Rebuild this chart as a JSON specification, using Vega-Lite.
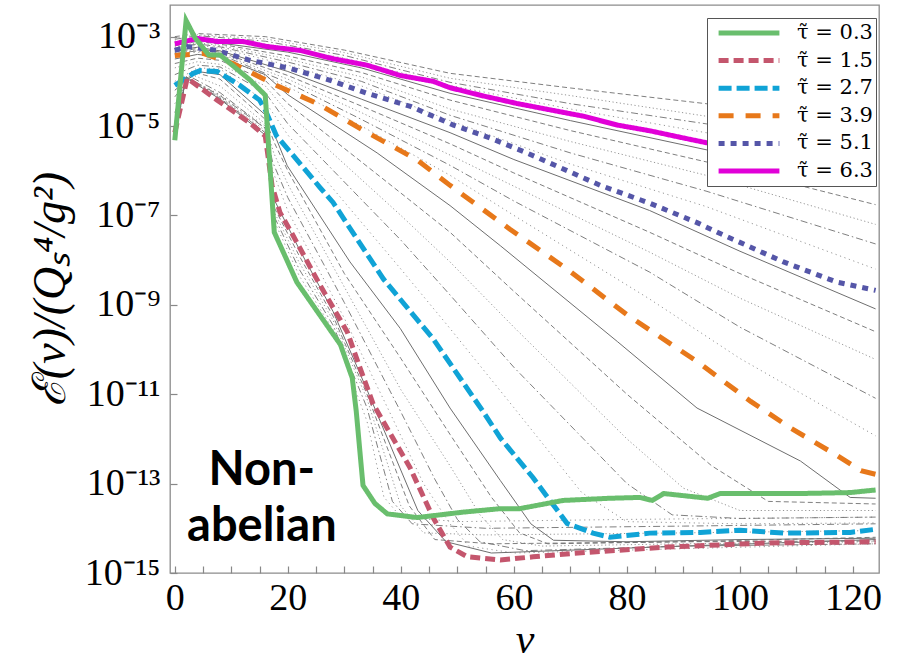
{
"$schema": "https://vega.github.io/schema/vega-lite/v6.json",
"width": 709,
"height": 568,
"autosize": {"type": "none"},
"padding": {"left": 170, "top": 5, "right": 20, "bottom": 94},
"background": "white",
"config": {"view": {"stroke": "#8c8c8c", "strokeWidth": 1.3}, "font": "Liberation Serif"},
"datasets": {"notes": [{"note": "Non-abelian", "nu": 15.4, "E": 1.95e-13}]},
"data": {"values": [
{"tau":7.1,"nu":0,"E":1e-3},{"tau":7.1,"nu":4,"E":1.17e-3},{"tau":7.1,"nu":16,"E":1e-3},{"tau":7.1,"nu":30,"E":5e-4},{"tau":7.1,"nu":48.7,"E":1.51e-4},{"tau":7.1,"nu":70,"E":7.1e-5},{"tau":7.1,"nu":94,"E":3.16e-5},{"tau":7.1,"nu":124,"E":1e-5},
{"tau":6.9,"nu":0,"E":9.3e-4},{"tau":6.9,"nu":4,"E":1.1e-3},{"tau":6.9,"nu":16,"E":8.9e-4},{"tau":6.9,"nu":30,"E":4.4e-4},{"tau":6.9,"nu":48.7,"E":1.17e-4},{"tau":6.9,"nu":70,"E":4.8e-5},{"tau":6.9,"nu":94,"E":1.66e-5},{"tau":6.9,"nu":124,"E":5.6e-6},
{"tau":6.7,"nu":0,"E":8.7e-4},{"tau":6.7,"nu":4,"E":1.05e-3},{"tau":6.7,"nu":16,"E":7.9e-4},{"tau":6.7,"nu":30,"E":3.8e-4},{"tau":6.7,"nu":48.7,"E":9.5e-5},{"tau":6.7,"nu":70,"E":3.16e-5},{"tau":6.7,"nu":94,"E":1.12e-5},{"tau":6.7,"nu":124,"E":3.16e-6},
{"tau":6.5,"nu":0,"E":7.9e-4},{"tau":6.5,"nu":4,"E":9.8e-4},{"tau":6.5,"nu":16,"E":6.9e-4},{"tau":6.5,"nu":30,"E":3.3e-4},{"tau":6.5,"nu":48.7,"E":8.1e-5},{"tau":6.5,"nu":70,"E":2.4e-5},{"tau":6.5,"nu":94,"E":7.1e-6},{"tau":6.5,"nu":124,"E":1.78e-6},
{"tau":6.1,"nu":0,"E":6.6e-4},{"tau":6.1,"nu":4,"E":8.5e-4},{"tau":6.1,"nu":8,"E":7.2e-4},{"tau":6.1,"nu":20,"E":4.5e-4},{"tau":6.1,"nu":33,"E":2e-4},{"tau":6.1,"nu":48.7,"E":5.4e-5},{"tau":6.1,"nu":70,"E":1.32e-5},{"tau":6.1,"nu":94,"E":2.95e-6},{"tau":6.1,"nu":124,"E":4.7e-7},
{"tau":5.9,"nu":0,"E":6.2e-4},{"tau":5.9,"nu":4,"E":7.9e-4},{"tau":5.9,"nu":8,"E":6.8e-4},{"tau":5.9,"nu":20,"E":3.7e-4},{"tau":5.9,"nu":33,"E":1.58e-4},{"tau":5.9,"nu":48.7,"E":3.8e-5},{"tau":5.9,"nu":70,"E":7.9e-6},{"tau":5.9,"nu":94,"E":1.58e-6},{"tau":5.9,"nu":124,"E":1.74e-7},
{"tau":5.7,"nu":0,"E":5.8e-4},{"tau":5.7,"nu":4,"E":7.4e-4},{"tau":5.7,"nu":8,"E":6.3e-4},{"tau":5.7,"nu":20,"E":3.16e-4},{"tau":5.7,"nu":33,"E":1.26e-4},{"tau":5.7,"nu":48.7,"E":2.4e-5},{"tau":5.7,"nu":70,"E":4.5e-6},{"tau":5.7,"nu":94,"E":7.9e-7},{"tau":5.7,"nu":124,"E":6.3e-8},
{"tau":5.5,"nu":0,"E":5.5e-4},{"tau":5.5,"nu":4,"E":6.9e-4},{"tau":5.5,"nu":8,"E":5.9e-4},{"tau":5.5,"nu":20,"E":2.7e-4},{"tau":5.5,"nu":33,"E":1e-4},{"tau":5.5,"nu":48.7,"E":1.74e-5},{"tau":5.5,"nu":70,"E":2.5e-6},{"tau":5.5,"nu":94,"E":3.5e-7},{"tau":5.5,"nu":124,"E":2.3e-8},
{"tau":5.3,"nu":0,"E":5.1e-4},{"tau":5.3,"nu":4,"E":6.5e-4},{"tau":5.3,"nu":8,"E":5.5e-4},{"tau":5.3,"nu":20,"E":2.3e-4},{"tau":5.3,"nu":33,"E":7.9e-5},{"tau":5.3,"nu":48.7,"E":1.32e-5},{"tau":5.3,"nu":70,"E":1.41e-6},{"tau":5.3,"nu":94,"E":1.58e-7},{"tau":5.3,"nu":124,"E":6.3e-9},
{"tau":4.9,"nu":0,"E":4.8e-4},{"tau":4.9,"nu":4,"E":5.8e-4},{"tau":4.9,"nu":8,"E":4.8e-4},{"tau":4.9,"nu":20,"E":1.66e-4},{"tau":4.9,"nu":33,"E":4e-5},{"tau":4.9,"nu":48.7,"E":7.1e-6},{"tau":4.9,"nu":60,"E":1.78e-6},{"tau":4.9,"nu":84,"E":1.29e-7},{"tau":4.9,"nu":100,"E":1.58e-8},{"tau":4.9,"nu":124,"E":8.1e-10},
{"tau":4.7,"nu":0,"E":4.6e-4},{"tau":4.7,"nu":4,"E":5.4e-4},{"tau":4.7,"nu":8,"E":4.5e-4},{"tau":4.7,"nu":20,"E":1.35e-4},{"tau":4.7,"nu":33,"E":2.8e-5},{"tau":4.7,"nu":48.7,"E":4e-6},{"tau":4.7,"nu":60,"E":8.9e-7},{"tau":4.7,"nu":84,"E":4.2e-8},{"tau":4.7,"nu":100,"E":5e-9},{"tau":4.7,"nu":124,"E":2.5e-10},
{"tau":4.5,"nu":0,"E":4.4e-4},{"tau":4.5,"nu":4,"E":5e-4},{"tau":4.5,"nu":8,"E":4.2e-4},{"tau":4.5,"nu":20,"E":1.12e-4},{"tau":4.5,"nu":33,"E":2e-5},{"tau":4.5,"nu":48.7,"E":2.24e-6},{"tau":4.5,"nu":60,"E":4.5e-7},{"tau":4.5,"nu":84,"E":1.51e-8},{"tau":4.5,"nu":100,"E":1.41e-9},{"tau":4.5,"nu":124,"E":6e-11},
{"tau":4.3,"nu":0,"E":4.2e-4},{"tau":4.3,"nu":4,"E":4.8e-4},{"tau":4.3,"nu":8,"E":4e-4},{"tau":4.3,"nu":20,"E":9.3e-5},{"tau":4.3,"nu":33,"E":1.41e-5},{"tau":4.3,"nu":48.7,"E":1.32e-6},{"tau":4.3,"nu":60,"E":2.1e-7},{"tau":4.3,"nu":84,"E":5.4e-9},{"tau":4.3,"nu":100,"E":3.16e-10},{"tau":4.3,"nu":124,"E":8.1e-12},
{"tau":4.1,"nu":0,"E":4e-4},{"tau":4.1,"nu":4,"E":4.5e-4},{"tau":4.1,"nu":8,"E":3.8e-4},{"tau":4.1,"nu":20,"E":7.6e-5},{"tau":4.1,"nu":33,"E":1e-5},{"tau":4.1,"nu":48.7,"E":7.9e-7},{"tau":4.1,"nu":60,"E":1e-7},{"tau":4.1,"nu":84,"E":1.35e-9},{"tau":4.1,"nu":100,"E":6.3e-11},{"tau":4.1,"nu":124,"E":1.17e-12},
{"tau":3.7,"nu":0,"E":3.16e-4},{"tau":3.7,"nu":4,"E":4e-4},{"tau":3.7,"nu":8,"E":3.5e-4},{"tau":3.7,"nu":16,"E":1.41e-4},{"tau":3.7,"nu":20,"E":5e-5},{"tau":3.7,"nu":35.8,"E":2.5e-6},{"tau":3.7,"nu":48.7,"E":1.66e-7},{"tau":3.7,"nu":57.6,"E":2.1e-8},{"tau":3.7,"nu":78.3,"E":1.51e-10},{"tau":3.7,"nu":92.4,"E":4.9e-12},{"tau":3.7,"nu":110.7,"E":3.2e-13},{"tau":3.7,"nu":119.5,"E":4.9e-14},{"tau":3.7,"nu":124,"E":4.7e-14},
{"tau":3.5,"nu":0,"E":2.5e-4},{"tau":3.5,"nu":4,"E":3.3e-4},{"tau":3.5,"nu":8,"E":2.95e-4},{"tau":3.5,"nu":16,"E":1.05e-4},{"tau":3.5,"nu":20,"E":3.16e-5},{"tau":3.5,"nu":40,"E":3.16e-7},{"tau":3.5,"nu":48.7,"E":4.2e-8},{"tau":3.5,"nu":60,"E":2e-9},{"tau":3.5,"nu":80,"E":1e-11},{"tau":3.5,"nu":95,"E":2.5e-13},{"tau":3.5,"nu":105,"E":4e-14},{"tau":3.5,"nu":124,"E":3.5e-14},
{"tau":3.3,"nu":0,"E":2e-4},{"tau":3.3,"nu":4,"E":2.75e-4},{"tau":3.3,"nu":8,"E":2.4e-4},{"tau":3.3,"nu":16,"E":7.9e-5},{"tau":3.3,"nu":20,"E":2e-5},{"tau":3.3,"nu":40,"E":1e-7},{"tau":3.3,"nu":48.7,"E":9.1e-9},{"tau":3.3,"nu":60,"E":3.16e-10},{"tau":3.3,"nu":80,"E":1e-12},{"tau":3.3,"nu":90,"E":7.9e-14},{"tau":3.3,"nu":100,"E":2.5e-14},{"tau":3.3,"nu":124,"E":2.5e-14},
{"tau":3.1,"nu":0,"E":1.41e-4},{"tau":3.1,"nu":4,"E":2.3e-4},{"tau":3.1,"nu":8,"E":2.1e-4},{"tau":3.1,"nu":16,"E":5.6e-5},{"tau":3.1,"nu":20,"E":1.12e-5},{"tau":3.1,"nu":40,"E":2.8e-8},{"tau":3.1,"nu":48.7,"E":1.66e-9},{"tau":3.1,"nu":60,"E":4e-11},{"tau":3.1,"nu":80,"E":1e-13},{"tau":3.1,"nu":88,"E":2e-14},{"tau":3.1,"nu":100,"E":1.66e-14},{"tau":3.1,"nu":124,"E":1.78e-14},
{"tau":2.9,"nu":0,"E":1e-4},{"tau":2.9,"nu":4,"E":2e-4},{"tau":2.9,"nu":8,"E":1.9e-4},{"tau":2.9,"nu":16,"E":3.5e-5},{"tau":2.9,"nu":20,"E":6.3e-6},{"tau":2.9,"nu":40,"E":6.3e-9},{"tau":2.9,"nu":48.7,"E":2.95e-10},{"tau":2.9,"nu":60,"E":5e-12},{"tau":2.9,"nu":72,"E":6.3e-14},{"tau":2.9,"nu":80,"E":1.41e-14},{"tau":2.9,"nu":100,"E":1.26e-14},{"tau":2.9,"nu":124,"E":1.32e-14},
{"tau":2.5,"nu":0,"E":6.3e-5},{"tau":2.5,"nu":4,"E":1.66e-4},{"tau":2.5,"nu":8,"E":1.41e-4},{"tau":2.5,"nu":16,"E":1.78e-5},{"tau":2.5,"nu":18,"E":5e-6},{"tau":2.5,"nu":19.9,"E":1.29e-6},{"tau":2.5,"nu":31,"E":9.1e-9},{"tau":2.5,"nu":39.9,"E":2.95e-10},{"tau":2.5,"nu":48.7,"E":4.9e-12},{"tau":2.5,"nu":57.6,"E":1.17e-13},{"tau":2.5,"nu":63,"E":1.26e-14},{"tau":2.5,"nu":67,"E":5.4e-15},{"tau":2.5,"nu":80,"E":5e-15},{"tau":2.5,"nu":100,"E":5.6e-15},{"tau":2.5,"nu":124,"E":6e-15},
{"tau":2.3,"nu":0,"E":4.5e-5},{"tau":2.3,"nu":3.5,"E":1.58e-4},{"tau":2.3,"nu":8,"E":1.12e-4},{"tau":2.3,"nu":16,"E":1.41e-5},{"tau":2.3,"nu":17.7,"E":4e-6},{"tau":2.3,"nu":20,"E":1e-6},{"tau":2.3,"nu":30,"E":5e-9},{"tau":2.3,"nu":40,"E":6.3e-11},{"tau":2.3,"nu":48.7,"E":1.26e-12},{"tau":2.3,"nu":56,"E":5e-14},{"tau":2.3,"nu":61,"E":7.9e-15},{"tau":2.3,"nu":66,"E":4.5e-15},{"tau":2.3,"nu":90,"E":5e-15},{"tau":2.3,"nu":124,"E":5.2e-15},
{"tau":2.1,"nu":0,"E":3.16e-5},{"tau":2.1,"nu":3,"E":1.41e-4},{"tau":2.1,"nu":8,"E":7.9e-5},{"tau":2.1,"nu":16,"E":1.12e-5},{"tau":2.1,"nu":17.5,"E":2.5e-6},{"tau":2.1,"nu":20,"E":5e-7},{"tau":2.1,"nu":30,"E":2.5e-9},{"tau":2.1,"nu":40,"E":1.26e-11},{"tau":2.1,"nu":48.7,"E":2.5e-13},{"tau":2.1,"nu":54,"E":2e-14},{"tau":2.1,"nu":58,"E":5.6e-15},{"tau":2.1,"nu":65,"E":4e-15},{"tau":2.1,"nu":90,"E":4.5e-15},{"tau":2.1,"nu":124,"E":5e-15},
{"tau":1.9,"nu":0,"E":2e-5},{"tau":1.9,"nu":2.5,"E":1.32e-4},{"tau":1.9,"nu":8,"E":5.6e-5},{"tau":1.9,"nu":16,"E":8.9e-6},{"tau":1.9,"nu":17.3,"E":1.58e-6},{"tau":1.9,"nu":20,"E":2.5e-7},{"tau":1.9,"nu":30,"E":1.12e-9},{"tau":1.9,"nu":40,"E":4e-12},{"tau":1.9,"nu":46,"E":1.26e-13},{"tau":1.9,"nu":50,"E":1.58e-14},{"tau":1.9,"nu":54,"E":5e-15},{"tau":1.9,"nu":62,"E":3.16e-15},{"tau":1.9,"nu":90,"E":4e-15},{"tau":1.9,"nu":124,"E":4.5e-15},
{"tau":1.7,"nu":0,"E":1.26e-5},{"tau":1.7,"nu":2,"E":1.26e-4},{"tau":1.7,"nu":8,"E":4.5e-5},{"tau":1.7,"nu":16,"E":7.1e-6},{"tau":1.7,"nu":17.3,"E":1e-6},{"tau":1.7,"nu":20,"E":1.26e-7},{"tau":1.7,"nu":30,"E":5e-10},{"tau":1.7,"nu":38,"E":4e-12},{"tau":1.7,"nu":44,"E":1e-13},{"tau":1.7,"nu":48.7,"E":1.26e-14},{"tau":1.7,"nu":52,"E":4e-15},{"tau":1.7,"nu":60,"E":2.8e-15},{"tau":1.7,"nu":90,"E":3.5e-15},{"tau":1.7,"nu":124,"E":4.5e-15},
{"tau":1.3,"nu":0,"E":6.8e-6},{"tau":1.3,"nu":2,"E":1.2e-4},{"tau":1.3,"nu":8,"E":4e-5},{"tau":1.3,"nu":16,"E":6.3e-6},{"tau":1.3,"nu":17.4,"E":2.5e-7},{"tau":1.3,"nu":22,"E":1.78e-8},{"tau":1.3,"nu":28,"E":7.1e-10},{"tau":1.3,"nu":34,"E":1.26e-11},{"tau":1.3,"nu":43,"E":2.5e-14},{"tau":1.3,"nu":48,"E":5e-15},{"tau":1.3,"nu":56,"E":2.8e-15},{"tau":1.3,"nu":90,"E":4e-15},{"tau":1.3,"nu":124,"E":5.6e-15},
{"tau":1.1,"nu":0,"E":6.3e-6},{"tau":1.1,"nu":2,"E":1.26e-4},{"tau":1.1,"nu":8,"E":4.2e-5},{"tau":1.1,"nu":16,"E":7.1e-6},{"tau":1.1,"nu":17.5,"E":1.58e-7},{"tau":1.1,"nu":22,"E":1.26e-8},{"tau":1.1,"nu":28,"E":5.6e-10},{"tau":1.1,"nu":34,"E":1e-11},{"tau":1.1,"nu":41.5,"E":3.16e-14},{"tau":1.1,"nu":46,"E":5.6e-15},{"tau":1.1,"nu":56,"E":4.5e-15},{"tau":1.1,"nu":90,"E":5e-15},{"tau":1.1,"nu":124,"E":6.3e-15},
{"tau":0.9,"nu":0,"E":5.8e-6},{"tau":0.9,"nu":2,"E":1.26e-4},{"tau":0.9,"nu":8,"E":4.5e-5},{"tau":0.9,"nu":16,"E":7.9e-6},{"tau":0.9,"nu":17.5,"E":1.26e-7},{"tau":0.9,"nu":22,"E":8.9e-9},{"tau":0.9,"nu":28,"E":4.5e-10},{"tau":0.9,"nu":34,"E":7.9e-12},{"tau":0.9,"nu":40,"E":3.16e-14},{"tau":0.9,"nu":44,"E":7.9e-15},{"tau":0.9,"nu":55,"E":7.1e-15},{"tau":0.9,"nu":90,"E":7.9e-15},{"tau":0.9,"nu":124,"E":8.9e-15},
{"tau":0.7,"nu":0,"E":5.4e-6},{"tau":0.7,"nu":2,"E":1.26e-4},{"tau":0.7,"nu":8,"E":4.8e-5},{"tau":0.7,"nu":16,"E":8.9e-6},{"tau":0.7,"nu":17.5,"E":1e-7},{"tau":0.7,"nu":22,"E":6.3e-9},{"tau":0.7,"nu":28,"E":3.5e-10},{"tau":0.7,"nu":34,"E":5e-12},{"tau":0.7,"nu":38.5,"E":4e-14},{"tau":0.7,"nu":42,"E":1.26e-14},{"tau":0.7,"nu":55,"E":1e-14},{"tau":0.7,"nu":90,"E":1.12e-14},{"tau":0.7,"nu":124,"E":1.26e-14},
{"tau":0.5,"nu":0,"E":5e-6},{"tau":0.5,"nu":2,"E":1.26e-4},{"tau":0.5,"nu":8,"E":5e-5},{"tau":0.5,"nu":16,"E":1e-5},{"tau":0.5,"nu":17.5,"E":7.9e-8},{"tau":0.5,"nu":22,"E":4.5e-9},{"tau":0.5,"nu":28,"E":2.8e-10},{"tau":0.5,"nu":34,"E":2.5e-12},{"tau":0.5,"nu":37,"E":5e-14},{"tau":0.5,"nu":40,"E":1.78e-14},{"tau":0.5,"nu":50,"E":1.41e-14},{"tau":0.5,"nu":80,"E":1.58e-14},{"tau":0.5,"nu":124,"E":1.78e-14},
{"tau":6.3,"nu":0,"E":6.9e-4},{"tau":6.3,"nu":4,"E":9.1e-4},{"tau":6.3,"nu":7.5,"E":7.8e-4},{"tau":6.3,"nu":12,"E":7.8e-4},{"tau":6.3,"nu":16.3,"E":6e-4},{"tau":6.3,"nu":22.2,"E":4.9e-4},{"tau":6.3,"nu":28,"E":3.2e-4},{"tau":6.3,"nu":34,"E":2.3e-4},{"tau":6.3,"nu":39.9,"E":1.35e-4},{"tau":6.3,"nu":45.7,"E":1e-4},{"tau":6.3,"nu":48.7,"E":7.2e-5},{"tau":6.3,"nu":54.6,"E":4.7e-5},{"tau":6.3,"nu":60.5,"E":3.2e-5},{"tau":6.3,"nu":66.4,"E":2.3e-5},{"tau":6.3,"nu":72.3,"E":1.66e-5},{"tau":6.3,"nu":78.3,"E":1.05e-5},{"tau":6.3,"nu":84.1,"E":7.8e-6},{"tau":6.3,"nu":90,"E":5.4e-6},{"tau":6.3,"nu":94.2,"E":4.2e-6},{"tau":6.3,"nu":100,"E":3.2e-6},{"tau":6.3,"nu":110,"E":1.86e-6},{"tau":6.3,"nu":118,"E":1.12e-6},{"tau":6.3,"nu":124,"E":1e-6},
{"tau":5.1,"nu":0,"E":4.9e-4},{"tau":5.1,"nu":2.2,"E":6e-4},{"tau":5.1,"nu":7.5,"E":4.9e-4},{"tau":5.1,"nu":13.3,"E":2.95e-4},{"tau":5.1,"nu":20.4,"E":1.95e-4},{"tau":5.1,"nu":27.5,"E":1.05e-4},{"tau":5.1,"nu":34,"E":5.4e-5},{"tau":5.1,"nu":41.7,"E":2.75e-5},{"tau":5.1,"nu":49.3,"E":1.05e-5},{"tau":5.1,"nu":55.8,"E":5.4e-6},{"tau":5.1,"nu":62.3,"E":2.5e-6},{"tau":5.1,"nu":75.3,"E":4.7e-7},{"tau":5.1,"nu":84.1,"E":1.86e-7},{"tau":5.1,"nu":92.4,"E":6.9e-8},{"tau":5.1,"nu":96,"E":4.2e-8},{"tau":5.1,"nu":107.7,"E":9.1e-9},{"tau":5.1,"nu":117.2,"E":3.2e-9},{"tau":5.1,"nu":124,"E":2.1e-9},
{"tau":3.9,"nu":0,"E":3.8e-4},{"tau":3.9,"nu":5,"E":4.2e-4},{"tau":3.9,"nu":10.3,"E":2.5e-4},{"tau":3.9,"nu":18,"E":8.1e-5},{"tau":3.9,"nu":25.2,"E":3.2e-5},{"tau":3.9,"nu":33.3,"E":8.1e-6},{"tau":3.9,"nu":42.9,"E":1.74e-6},{"tau":3.9,"nu":48.7,"E":4.7e-7},{"tau":3.9,"nu":59.3,"E":4.9e-8},{"tau":3.9,"nu":69.4,"E":6.3e-9},{"tau":3.9,"nu":80,"E":6e-10},{"tau":3.9,"nu":92.4,"E":5.4e-11},{"tau":3.9,"nu":101.9,"E":6.9e-12},{"tau":3.9,"nu":109,"E":1.74e-12},{"tau":3.9,"nu":116.6,"E":4.7e-13},{"tau":3.9,"nu":121.4,"E":1.95e-13},{"tau":3.9,"nu":124,"E":1.62e-13},
{"tau":2.7,"nu":0,"E":8.1e-5},{"tau":2.7,"nu":3.3,"E":1.51e-4},{"tau":2.7,"nu":4.5,"E":1.74e-4},{"tau":2.7,"nu":7.5,"E":1.66e-4},{"tau":2.7,"nu":11.5,"E":8.1e-5},{"tau":2.7,"nu":15,"E":3.8e-5},{"tau":2.7,"nu":16,"E":2.3e-5},{"tau":2.7,"nu":18,"E":6e-6},{"tau":2.7,"nu":20.9,"E":2.24e-6},{"tau":2.7,"nu":25.7,"E":4.2e-7},{"tau":2.7,"nu":28,"E":1.95e-7},{"tau":2.7,"nu":36.9,"E":3.8e-9},{"tau":2.7,"nu":45.7,"E":1.74e-10},{"tau":2.7,"nu":54.6,"E":4e-12},{"tau":2.7,"nu":57.6,"E":1.05e-12},{"tau":2.7,"nu":63.4,"E":1.35e-13},{"tau":2.7,"nu":69.4,"E":1.29e-14},{"tau":2.7,"nu":74,"E":7.8e-15},{"tau":2.7,"nu":77,"E":6.3e-15},{"tau":2.7,"nu":84,"E":7.8e-15},{"tau":2.7,"nu":93,"E":8.1e-15},{"tau":2.7,"nu":100,"E":9.1e-15},{"tau":2.7,"nu":107.7,"E":7.8e-15},{"tau":2.7,"nu":119.5,"E":8.1e-15},{"tau":2.7,"nu":124,"E":9.5e-15},
{"tau":1.5,"nu":0,"E":7.1e-6},{"tau":1.5,"nu":2.2,"E":1.17e-4},{"tau":1.5,"nu":7.5,"E":3.8e-5},{"tau":1.5,"nu":13.3,"E":1.17e-5},{"tau":1.5,"nu":16,"E":6e-6},{"tau":1.5,"nu":17.2,"E":4.7e-7},{"tau":1.5,"nu":18.6,"E":1.17e-7},{"tau":1.5,"nu":20.9,"E":3.6e-8},{"tau":1.5,"nu":25.7,"E":2.75e-9},{"tau":1.5,"nu":30.5,"E":2.5e-10},{"tau":1.5,"nu":32.8,"E":3.8e-11},{"tau":1.5,"nu":35.1,"E":6e-12},{"tau":1.5,"nu":41.6,"E":2.3e-13},{"tau":1.5,"nu":45.7,"E":1.74e-14},{"tau":1.5,"nu":48.7,"E":3.8e-15},{"tau":1.5,"nu":51.8,"E":2.3e-15},{"tau":1.5,"nu":57.6,"E":1.95e-15},{"tau":1.5,"nu":63.4,"E":2.3e-15},{"tau":1.5,"nu":70.5,"E":2.75e-15},{"tau":1.5,"nu":87,"E":3.8e-15},{"tau":1.5,"nu":104.8,"E":4.7e-15},{"tau":1.5,"nu":124,"E":5e-15},
{"tau":0.3,"nu":0,"E":4.8e-6},{"tau":0.3,"nu":2,"E":2.3e-3},{"tau":0.3,"nu":3.6,"E":9.3e-4},{"tau":0.3,"nu":6,"E":3.9e-4},{"tau":0.3,"nu":8,"E":3.9e-4},{"tau":0.3,"nu":13.3,"E":1.07e-4},{"tau":0.3,"nu":16,"E":4.9e-5},{"tau":0.3,"nu":17.6,"E":4.2e-8},{"tau":0.3,"nu":21.6,"E":3.2e-9},{"tau":0.3,"nu":29.3,"E":1.29e-10},{"tau":0.3,"nu":31.4,"E":2.3e-11},{"tau":0.3,"nu":32.1,"E":4.2e-12},{"tau":0.3,"nu":33.3,"E":9.1e-14},{"tau":0.3,"nu":35.4,"E":3.6e-14},{"tau":0.3,"nu":37.6,"E":2.1e-14},{"tau":0.3,"nu":42.9,"E":1.74e-14},{"tau":0.3,"nu":51,"E":2.3e-14},{"tau":0.3,"nu":57.6,"E":2.75e-14},{"tau":0.3,"nu":61,"E":2.75e-14},{"tau":0.3,"nu":68.7,"E":4.2e-14},{"tau":0.3,"nu":77,"E":4.7e-14},{"tau":0.3,"nu":82.3,"E":4.9e-14},{"tau":0.3,"nu":84.5,"E":4.2e-14},{"tau":0.3,"nu":86.5,"E":6e-14},{"tau":0.3,"nu":94.3,"E":4.7e-14},{"tau":0.3,"nu":96.5,"E":6e-14},{"tau":0.3,"nu":110.7,"E":6e-14},{"tau":0.3,"nu":119.5,"E":6.3e-14},{"tau":0.3,"nu":124,"E":7.2e-14}
]},
"encoding": {
  "x": {"field": "nu", "type": "quantitative",
    "scale": {"domain": [-0.85, 124.6], "nice": false, "zero": false},
    "axis": {"values": [0,5,10,15,20,25,30,35,40,45,50,55,60,65,70,75,80,85,90,95,100,105,110,115,120],
      "labelExpr": "datum.value % 20 === 0 ? datum.label : ''",
      "title": "ν", "titleFont": "Liberation Serif", "titleFontStyle": "italic", "titleFontWeight": "normal", "titleFontSize": 42, "titleColor": "black",
      "titleY": 86, "titleBaseline": "alphabetic",
      "labelFont": "Liberation Serif", "labelFontSize": 38, "labelColor": "black", "labelPadding": 6,
      "labelFlush": false, "labelOverlap": false,
      "tickSize": 7, "offset": -7, "tickColor": "#888", "tickWidth": 1.2, "domain": false, "grid": false}},
  "y": {"field": "E", "type": "quantitative",
    "scale": {"type": "log", "domain": [1e-15, 5.1e-3], "nice": false},
    "axis": {"values": [1e-15,1e-13,1e-11,1e-9,1e-7,1e-5,1e-3],
      "labelExpr": "['10⁻³','10⁻⁵','10⁻⁷','10⁻⁹','10⁻¹¹','10⁻¹³','10⁻¹⁵'][round((-log(datum.value)/LN10-3)/2)]",
      "title": "ℰ(ν)/(Qₛ⁴/g²)", "titleFont": "Liberation Serif", "titleFontStyle": "italic", "titleFontWeight": "normal", "titleFontSize": 46, "titleColor": "black",
      "titleX": -127, "titleY": 284, "titleAngle": -90, "titleAlign": "center", "titleBaseline": "middle",
      "labelFont": "Liberation Serif", "labelFontSize": 38, "labelColor": "black", "labelPadding": 10, "labelBaseline": "middle",
      "labelFlush": false, "labelOverlap": false,
      "tickSize": 7, "offset": -7, "tickColor": "#888", "tickWidth": 1.2, "domain": false, "grid": false}}
},
"layer": [
  {"transform": [{"filter": {"field": "tau", "oneOf": [0.5, 1.7, 2.9, 4.1, 5.3, 6.5]}}],
   "mark": {"type": "line", "stroke": "#8a8a8a", "strokeWidth": 0.9, "strokeDash": [1.2, 3.5], "clip": true},
   "encoding": {"detail": {"field": "tau", "type": "nominal"}}},
  {"transform": [{"filter": {"field": "tau", "oneOf": [0.7, 1.9, 3.1, 4.3, 5.5, 6.7]}}],
   "mark": {"type": "line", "stroke": "#707070", "strokeWidth": 0.9, "strokeDash": [7, 3, 1.5, 3], "clip": true},
   "encoding": {"detail": {"field": "tau", "type": "nominal"}}},
  {"transform": [{"filter": {"field": "tau", "oneOf": [0.9, 2.1, 3.3, 4.5, 5.7, 6.9]}}],
   "mark": {"type": "line", "stroke": "#8a8a8a", "strokeWidth": 0.9, "strokeDash": [1.2, 2.5], "clip": true},
   "encoding": {"detail": {"field": "tau", "type": "nominal"}}},
  {"transform": [{"filter": {"field": "tau", "oneOf": [1.1, 2.3, 3.5, 4.7, 5.9, 7.1]}}],
   "mark": {"type": "line", "stroke": "#707070", "strokeWidth": 0.9, "strokeDash": [5, 3], "clip": true},
   "encoding": {"detail": {"field": "tau", "type": "nominal"}}},
  {"transform": [{"filter": {"field": "tau", "oneOf": [1.3, 2.5, 3.7, 4.9, 6.1]}}],
   "mark": {"type": "line", "stroke": "#6e6e6e", "strokeWidth": 1, "clip": true},
   "encoding": {"detail": {"field": "tau", "type": "nominal"}}},
  {"transform": [{"filter": {"field": "tau", "oneOf": [0.3, 1.5, 2.7, 3.9, 5.1, 6.3]}}],
   "mark": {"type": "line", "strokeWidth": 5, "clip": true},
   "encoding": {
     "color": {"field": "tau", "type": "nominal",
       "scale": {"domain": [0.3, 1.5, 2.7, 3.9, 5.1, 6.3], "range": ["#69be6d", "#c4566d", "#10a3d6", "#e7781a", "#5556a8", "#e100d8"]},
       "legend": {"title": null, "orient": "none", "legendX": 537, "legendY": 13, "symbolType": "stroke", "symbolSize": 3700, "symbolStrokeWidth": 5, "symbolOffset": 6,
         "labelFont": "DejaVu Serif", "labelFontSize": 21, "labelColor": "black", "labelExpr": "'τ̃ = ' + datum.label", "labelOffset": 15,
         "clipHeight": 24, "rowPadding": 3.6, "padding": 3, "strokeColor": "#555", "fillColor": "white"}},
     "strokeDash": {"field": "tau", "type": "nominal",
       "scale": {"domain": [0.3, 1.5, 2.7, 3.9, 5.1, 6.3], "range": [[1, 0], [10, 5], [13, 5], [15, 12], [6, 6], [1, 0]]},
       "legend": {"title": null, "orient": "none", "legendX": 537, "legendY": 13, "symbolType": "stroke", "symbolSize": 3700, "symbolStrokeWidth": 5, "symbolOffset": 6,
         "labelFont": "DejaVu Serif", "labelFontSize": 21, "labelColor": "black", "labelExpr": "'τ̃ = ' + datum.label", "labelOffset": 15,
         "clipHeight": 24, "rowPadding": 3.6, "padding": 3, "strokeColor": "#555", "fillColor": "white"}}
   }},
  {"data": {"name": "notes"},
   "mark": {"type": "text", "text": ["Non-", "abelian"], "font": "Lato", "fontWeight": "bold", "fontSize": 47, "lineHeight": 56, "align": "center", "baseline": "middle", "color": "black"}}
]
}
